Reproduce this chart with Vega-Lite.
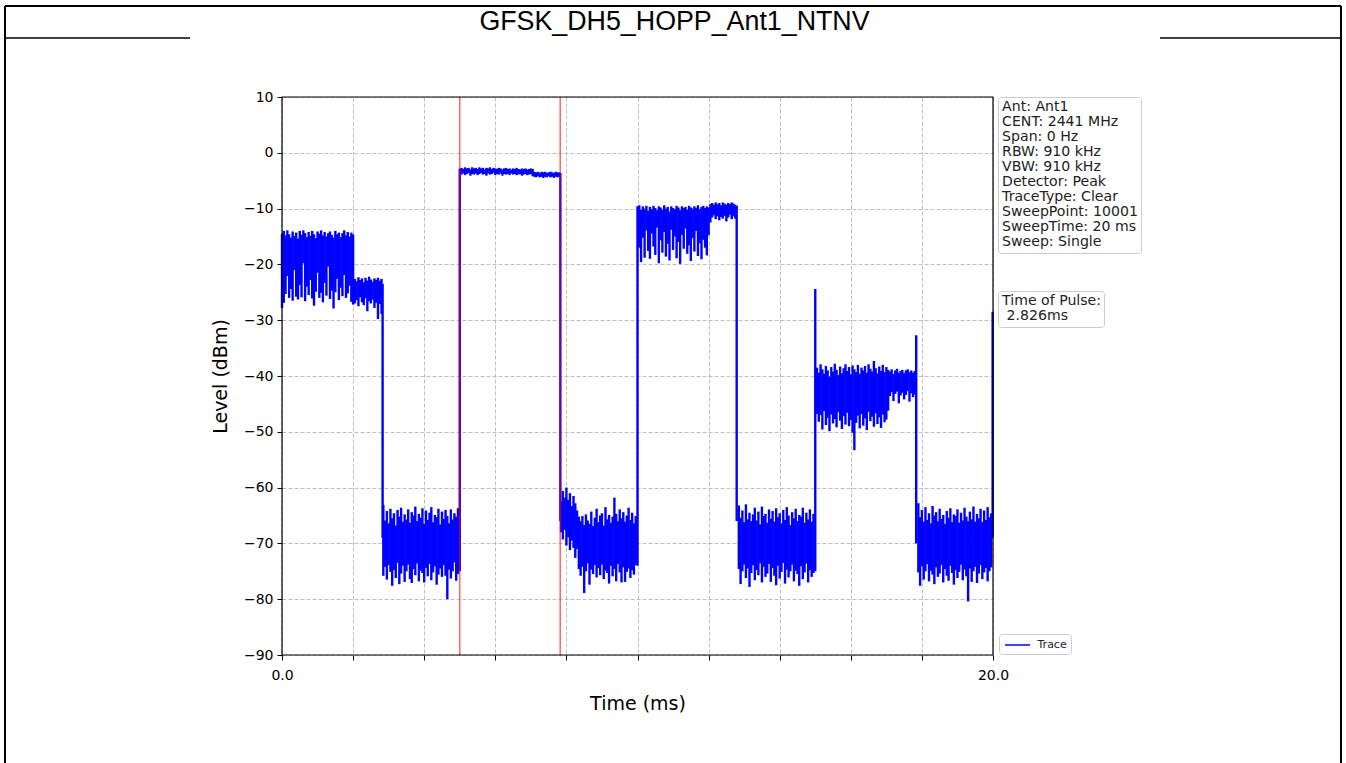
{
  "$schema": "https://vega.github.io/schema/vega-lite/v6.json",
  "width": 711,
  "height": 558,
  "autosize": "none",
  "padding": {"left": 282, "top": 97, "right": 353, "bottom": 108},
  "background": "white",
  "title": {
    "text": "GFSK_DH5_HOPP_Ant1_NTNV",
    "font": "Liberation Sans",
    "fontSize": 26.8,
    "fontWeight": "normal",
    "color": "black",
    "anchor": "middle",
    "frame": "group",
    "dx": 37,
    "offset": -52,
    "baseline": "alphabetic"
  },
  "config": {
    "view": {"stroke": null},
    "font": "DejaVu Sans",
    "axis": {
      "domain": false,
      "tickColor": "black",
      "tickSize": 5,
      "tickWidth": 1,
      "labelFont": "DejaVu Sans",
      "labelFontSize": 14,
      "labelColor": "black",
      "labelOverlap": false,
      "labelFlush": false,
      "titleFont": "DejaVu Sans",
      "titleFontSize": 19,
      "titleFontWeight": "normal",
      "titleColor": "black",
      "grid": true,
      "gridColor": "#b0b0b0",
      "gridDash": [4, 2],
      "gridWidth": 0.8
    }
  },
  "datasets": {
    "trace": [
      {"t":0.00,"lo":-27.8,"hi":-14.5},{"t":0.05,"lo":-26.9,"hi":-14.0},{"t":0.10,"lo":-25.3,"hi":-14.8},{"t":0.15,"lo":-22.1,"hi":-13.9},
      {"t":0.20,"lo":-26.0,"hi":-14.6},{"t":0.25,"lo":-24.4,"hi":-15.2},{"t":0.30,"lo":-26.5,"hi":-14.1},{"t":0.35,"lo":-21.0,"hi":-14.9},
      {"t":0.40,"lo":-25.8,"hi":-14.3},{"t":0.45,"lo":-26.3,"hi":-15.4},{"t":0.50,"lo":-23.7,"hi":-14.0},{"t":0.55,"lo":-25.9,"hi":-14.7},
      {"t":0.60,"lo":-19.8,"hi":-13.9},{"t":0.65,"lo":-26.6,"hi":-14.4},{"t":0.70,"lo":-24.0,"hi":-15.1},{"t":0.75,"lo":-25.5,"hi":-14.2},
      {"t":0.80,"lo":-22.8,"hi":-14.9},{"t":0.85,"lo":-26.1,"hi":-14.0},{"t":0.90,"lo":-27.4,"hi":-14.6},{"t":0.95,"lo":-24.9,"hi":-15.3},
      {"t":1.00,"lo":-21.5,"hi":-14.1},{"t":1.05,"lo":-26.0,"hi":-14.5},{"t":1.10,"lo":-25.1,"hi":-13.9},{"t":1.15,"lo":-26.8,"hi":-14.8},
      {"t":1.20,"lo":-23.3,"hi":-14.2},{"t":1.25,"lo":-25.6,"hi":-15.0},{"t":1.30,"lo":-20.4,"hi":-14.4},{"t":1.35,"lo":-26.2,"hi":-14.1},
      {"t":1.40,"lo":-24.7,"hi":-14.7},{"t":1.45,"lo":-27.9,"hi":-15.2},{"t":1.50,"lo":-25.0,"hi":-14.0},{"t":1.55,"lo":-22.6,"hi":-14.6},
      {"t":1.60,"lo":-26.4,"hi":-14.3},{"t":1.65,"lo":-24.2,"hi":-15.1},{"t":1.70,"lo":-25.7,"hi":-14.4},{"t":1.75,"lo":-21.9,"hi":-13.9},
      {"t":1.80,"lo":-26.0,"hi":-14.8},{"t":1.85,"lo":-25.2,"hi":-14.2},{"t":1.90,"lo":-23.8,"hi":-15.0},{"t":1.95,"lo":-26.7,"hi":-14.3},
      {"t":2.00,"lo":-27.2,"hi":-14.6},
      {"t":2.05,"lo":-27.0,"hi":-22.6},{"t":2.10,"lo":-26.4,"hi":-23.0},{"t":2.15,"lo":-27.5,"hi":-22.3},{"t":2.20,"lo":-25.9,"hi":-22.8},
      {"t":2.25,"lo":-26.8,"hi":-22.5},{"t":2.30,"lo":-27.3,"hi":-23.2},{"t":2.35,"lo":-26.1,"hi":-22.4},{"t":2.40,"lo":-28.4,"hi":-22.9},
      {"t":2.45,"lo":-26.6,"hi":-22.2},{"t":2.50,"lo":-27.0,"hi":-22.7},{"t":2.55,"lo":-26.3,"hi":-23.1},{"t":2.60,"lo":-27.8,"hi":-22.5},
      {"t":2.65,"lo":-26.9,"hi":-22.8},{"t":2.70,"lo":-29.8,"hi":-22.4},{"t":2.75,"lo":-27.1,"hi":-22.9},{"t":2.80,"lo":-28.9,"hi":-22.6},
      {"t":2.83,"lo":-69.0,"hi":-23.5},
      {"t":2.85,"lo":-75.8,"hi":-63.1},{"t":2.90,"lo":-74.2,"hi":-65.9},{"t":2.95,"lo":-76.5,"hi":-64.2},{"t":3.00,"lo":-73.9,"hi":-66.4},
      {"t":3.05,"lo":-75.1,"hi":-63.8},{"t":3.10,"lo":-77.6,"hi":-65.5},{"t":3.15,"lo":-74.8,"hi":-64.6},{"t":3.20,"lo":-76.2,"hi":-66.8},
      {"t":3.25,"lo":-73.5,"hi":-64.0},{"t":3.30,"lo":-77.3,"hi":-65.2},{"t":3.35,"lo":-75.4,"hi":-63.6},{"t":3.40,"lo":-74.0,"hi":-66.1},
      {"t":3.45,"lo":-76.9,"hi":-64.8},{"t":3.50,"lo":-75.0,"hi":-65.7},{"t":3.55,"lo":-73.8,"hi":-63.9},{"t":3.60,"lo":-76.4,"hi":-66.3},
      {"t":3.65,"lo":-77.1,"hi":-64.4},{"t":3.70,"lo":-74.6,"hi":-65.0},{"t":3.75,"lo":-75.7,"hi":-63.4},{"t":3.80,"lo":-73.6,"hi":-66.0},
      {"t":3.85,"lo":-76.8,"hi":-64.7},{"t":3.90,"lo":-74.9,"hi":-65.4},{"t":3.95,"lo":-75.3,"hi":-63.7},{"t":4.00,"lo":-77.0,"hi":-66.5},
      {"t":4.05,"lo":-74.4,"hi":-64.1},{"t":4.10,"lo":-75.9,"hi":-65.8},{"t":4.15,"lo":-73.7,"hi":-64.5},{"t":4.20,"lo":-76.6,"hi":-63.5},
      {"t":4.25,"lo":-75.2,"hi":-66.2},{"t":4.30,"lo":-74.1,"hi":-64.9},{"t":4.35,"lo":-77.4,"hi":-65.3},{"t":4.40,"lo":-75.6,"hi":-63.8},
      {"t":4.45,"lo":-74.5,"hi":-66.6},{"t":4.50,"lo":-76.0,"hi":-64.3},{"t":4.55,"lo":-73.9,"hi":-65.6},{"t":4.60,"lo":-75.8,"hi":-64.0},
      {"t":4.65,"lo":-80.0,"hi":-65.1},{"t":4.70,"lo":-74.7,"hi":-66.4},{"t":4.75,"lo":-76.3,"hi":-63.9},{"t":4.80,"lo":-75.0,"hi":-65.7},
      {"t":4.85,"lo":-73.4,"hi":-64.6},{"t":4.90,"lo":-76.7,"hi":-65.2},{"t":4.95,"lo":-75.5,"hi":-63.7},
      {"t":5.00,"lo":-75.0,"hi":-2.8},
      {"t":5.05,"lo":-3.9,"hi":-2.7},{"t":5.10,"lo":-3.7,"hi":-2.9},{"t":5.15,"lo":-4.0,"hi":-2.6},{"t":5.20,"lo":-3.8,"hi":-2.8},
      {"t":5.25,"lo":-3.6,"hi":-2.7},{"t":5.30,"lo":-4.1,"hi":-3.0},{"t":5.35,"lo":-3.8,"hi":-2.6},{"t":5.40,"lo":-3.9,"hi":-2.8},
      {"t":5.45,"lo":-3.7,"hi":-2.7},{"t":5.50,"lo":-4.0,"hi":-2.9},{"t":5.55,"lo":-3.8,"hi":-2.6},{"t":5.60,"lo":-3.6,"hi":-2.8},
      {"t":5.65,"lo":-3.9,"hi":-2.7},{"t":5.70,"lo":-3.8,"hi":-3.0},{"t":5.75,"lo":-4.1,"hi":-2.7},{"t":5.80,"lo":-3.7,"hi":-2.8},
      {"t":5.85,"lo":-3.9,"hi":-2.6},{"t":5.90,"lo":-3.8,"hi":-2.9},{"t":5.95,"lo":-3.6,"hi":-2.7},{"t":6.00,"lo":-4.0,"hi":-2.8},
      {"t":6.05,"lo":-3.8,"hi":-2.9},{"t":6.10,"lo":-3.9,"hi":-2.7},{"t":6.15,"lo":-3.7,"hi":-2.8},{"t":6.20,"lo":-4.1,"hi":-3.0},
      {"t":6.25,"lo":-3.8,"hi":-2.8},{"t":6.30,"lo":-3.9,"hi":-2.7},{"t":6.35,"lo":-3.8,"hi":-2.9},{"t":6.40,"lo":-4.0,"hi":-2.8},
      {"t":6.45,"lo":-3.7,"hi":-3.0},{"t":6.50,"lo":-3.9,"hi":-2.8},{"t":6.55,"lo":-3.8,"hi":-2.9},{"t":6.60,"lo":-4.0,"hi":-2.7},
      {"t":6.65,"lo":-3.9,"hi":-2.9},{"t":6.70,"lo":-3.8,"hi":-3.0},{"t":6.75,"lo":-4.1,"hi":-2.8},{"t":6.80,"lo":-3.9,"hi":-2.9},
      {"t":6.85,"lo":-3.8,"hi":-2.8},{"t":6.90,"lo":-4.0,"hi":-3.0},{"t":6.95,"lo":-3.9,"hi":-2.9},{"t":7.00,"lo":-3.8,"hi":-2.8},
      {"t":7.05,"lo":-4.2,"hi":-2.9},{"t":7.10,"lo":-4.3,"hi":-3.4},{"t":7.15,"lo":-4.4,"hi":-3.5},{"t":7.20,"lo":-4.2,"hi":-3.4},
      {"t":7.25,"lo":-4.4,"hi":-3.6},{"t":7.30,"lo":-4.3,"hi":-3.4},{"t":7.35,"lo":-4.5,"hi":-3.5},{"t":7.40,"lo":-4.3,"hi":-3.4},
      {"t":7.45,"lo":-4.4,"hi":-3.6},{"t":7.50,"lo":-4.2,"hi":-3.5},{"t":7.55,"lo":-4.4,"hi":-3.4},{"t":7.60,"lo":-4.3,"hi":-3.5},
      {"t":7.65,"lo":-4.5,"hi":-3.6},{"t":7.70,"lo":-4.3,"hi":-3.4},{"t":7.75,"lo":-4.4,"hi":-3.5},{"t":7.80,"lo":-4.3,"hi":-3.5},
      {"t":7.83,"lo":-66.0,"hi":-3.6},
      {"t":7.85,"lo":-68.0,"hi":-62.5},{"t":7.90,"lo":-69.3,"hi":-60.6},{"t":7.95,"lo":-67.6,"hi":-61.8},{"t":8.00,"lo":-70.4,"hi":-60.0},
      {"t":8.05,"lo":-68.9,"hi":-62.2},{"t":8.10,"lo":-71.2,"hi":-61.0},{"t":8.15,"lo":-69.5,"hi":-63.3},{"t":8.20,"lo":-70.8,"hi":-61.5},
      {"t":8.25,"lo":-72.6,"hi":-62.8},{"t":8.30,"lo":-71.0,"hi":-64.1},{"t":8.35,"lo":-74.6,"hi":-65.2},
      {"t":8.40,"lo":-75.8,"hi":-66.0},{"t":8.45,"lo":-74.2,"hi":-65.1},{"t":8.50,"lo":-78.9,"hi":-66.7},{"t":8.55,"lo":-75.0,"hi":-64.8},
      {"t":8.60,"lo":-73.6,"hi":-65.9},{"t":8.65,"lo":-77.4,"hi":-66.5},{"t":8.70,"lo":-74.7,"hi":-64.3},{"t":8.75,"lo":-75.5,"hi":-66.9},
      {"t":8.80,"lo":-73.9,"hi":-65.4},{"t":8.85,"lo":-76.1,"hi":-63.8},{"t":8.90,"lo":-74.4,"hi":-66.2},{"t":8.95,"lo":-75.7,"hi":-65.0},
      {"t":9.00,"lo":-73.8,"hi":-64.6},{"t":9.05,"lo":-76.4,"hi":-66.8},{"t":9.10,"lo":-74.9,"hi":-63.5},{"t":9.15,"lo":-75.3,"hi":-65.7},
      {"t":9.20,"lo":-77.2,"hi":-64.9},{"t":9.25,"lo":-74.0,"hi":-66.3},{"t":9.30,"lo":-75.9,"hi":-65.2},{"t":9.35,"lo":-74.6,"hi":-61.8},
      {"t":9.40,"lo":-76.8,"hi":-64.7},{"t":9.45,"lo":-73.7,"hi":-66.0},{"t":9.50,"lo":-75.2,"hi":-63.9},{"t":9.55,"lo":-77.0,"hi":-65.5},
      {"t":9.60,"lo":-74.3,"hi":-64.4},{"t":9.65,"lo":-76.9,"hi":-66.1},{"t":9.70,"lo":-75.1,"hi":-65.0},{"t":9.75,"lo":-74.5,"hi":-63.6},
      {"t":9.80,"lo":-76.2,"hi":-65.8},{"t":9.85,"lo":-74.8,"hi":-64.5},{"t":9.90,"lo":-75.6,"hi":-66.4},{"t":9.95,"lo":-73.9,"hi":-65.1},
      {"t":10.00,"lo":-74.0,"hi":-9.6},
      {"t":10.05,"lo":-17.0,"hi":-9.4},{"t":10.10,"lo":-19.6,"hi":-10.2},{"t":10.15,"lo":-15.2,"hi":-9.6},{"t":10.20,"lo":-18.8,"hi":-10.0},
      {"t":10.25,"lo":-13.9,"hi":-9.5},{"t":10.30,"lo":-17.6,"hi":-10.4},{"t":10.35,"lo":-19.0,"hi":-9.7},{"t":10.40,"lo":-14.5,"hi":-10.1},
      {"t":10.45,"lo":-16.8,"hi":-9.5},{"t":10.50,"lo":-18.3,"hi":-9.9},{"t":10.55,"lo":-13.4,"hi":-10.3},{"t":10.60,"lo":-19.8,"hi":-9.6},
      {"t":10.65,"lo":-15.7,"hi":-9.8},{"t":10.70,"lo":-17.9,"hi":-10.2},{"t":10.75,"lo":-14.2,"hi":-9.4},{"t":10.80,"lo":-18.6,"hi":-10.0},
      {"t":10.85,"lo":-16.3,"hi":-9.7},{"t":10.90,"lo":-19.3,"hi":-10.5},{"t":10.95,"lo":-13.8,"hi":-9.6},{"t":11.00,"lo":-17.4,"hi":-9.9},
      {"t":11.05,"lo":-15.0,"hi":-10.1},{"t":11.10,"lo":-18.9,"hi":-9.5},{"t":11.15,"lo":-16.0,"hi":-9.8},{"t":11.20,"lo":-19.9,"hi":-10.3},
      {"t":11.25,"lo":-14.7,"hi":-9.6},{"t":11.30,"lo":-17.2,"hi":-9.9},{"t":11.35,"lo":-13.6,"hi":-9.7},{"t":11.40,"lo":-18.1,"hi":-10.2},
      {"t":11.45,"lo":-16.6,"hi":-9.5},{"t":11.50,"lo":-19.4,"hi":-9.8},{"t":11.55,"lo":-15.3,"hi":-10.0},{"t":11.60,"lo":-17.7,"hi":-9.6},
      {"t":11.65,"lo":-14.0,"hi":-9.9},{"t":11.70,"lo":-18.5,"hi":-9.4},{"t":11.75,"lo":-16.2,"hi":-10.1},{"t":11.80,"lo":-19.1,"hi":-9.7},
      {"t":11.85,"lo":-15.6,"hi":-9.5},{"t":11.90,"lo":-17.0,"hi":-9.9},{"t":11.95,"lo":-18.4,"hi":-9.6},{"t":12.00,"lo":-14.8,"hi":-9.8},
      {"t":12.05,"lo":-12.5,"hi":-9.2},
      {"t":12.10,"lo":-11.6,"hi":-9.0},{"t":12.15,"lo":-11.2,"hi":-9.3},{"t":12.20,"lo":-11.9,"hi":-8.9},{"t":12.25,"lo":-11.4,"hi":-9.2},
      {"t":12.30,"lo":-12.1,"hi":-9.0},{"t":12.35,"lo":-11.5,"hi":-9.4},{"t":12.40,"lo":-11.8,"hi":-8.9},{"t":12.45,"lo":-11.3,"hi":-9.1},
      {"t":12.50,"lo":-12.3,"hi":-9.3},{"t":12.55,"lo":-11.6,"hi":-9.0},{"t":12.60,"lo":-11.1,"hi":-9.2},{"t":12.65,"lo":-11.9,"hi":-8.9},
      {"t":12.70,"lo":-11.4,"hi":-9.1},{"t":12.75,"lo":-11.8,"hi":-9.3},
      {"t":12.79,"lo":-66.0,"hi":-9.5},
      {"t":12.85,"lo":-74.6,"hi":-63.2},{"t":12.90,"lo":-77.3,"hi":-65.4},{"t":12.95,"lo":-75.0,"hi":-64.1},{"t":13.00,"lo":-73.8,"hi":-66.2},
      {"t":13.05,"lo":-76.2,"hi":-63.0},{"t":13.10,"lo":-74.5,"hi":-65.7},{"t":13.15,"lo":-77.8,"hi":-64.5},{"t":13.20,"lo":-75.3,"hi":-66.0},
      {"t":13.25,"lo":-73.9,"hi":-64.8},{"t":13.30,"lo":-76.6,"hi":-63.6},{"t":13.35,"lo":-74.8,"hi":-65.9},{"t":13.40,"lo":-75.7,"hi":-64.3},
      {"t":13.45,"lo":-73.6,"hi":-66.6},{"t":13.50,"lo":-77.0,"hi":-63.4},{"t":13.55,"lo":-74.2,"hi":-65.1},{"t":13.60,"lo":-76.0,"hi":-64.7},
      {"t":13.65,"lo":-75.4,"hi":-66.3},{"t":13.70,"lo":-73.7,"hi":-63.9},{"t":13.75,"lo":-76.9,"hi":-65.6},{"t":13.80,"lo":-74.4,"hi":-64.2},
      {"t":13.85,"lo":-75.8,"hi":-66.1},{"t":13.90,"lo":-77.5,"hi":-63.7},{"t":13.95,"lo":-74.0,"hi":-65.3},{"t":14.00,"lo":-76.3,"hi":-64.6},
      {"t":14.05,"lo":-75.1,"hi":-66.4},{"t":14.10,"lo":-73.5,"hi":-64.0},{"t":14.15,"lo":-77.2,"hi":-65.8},{"t":14.20,"lo":-74.7,"hi":-63.5},
      {"t":14.25,"lo":-76.1,"hi":-65.0},{"t":14.30,"lo":-75.0,"hi":-66.7},{"t":14.35,"lo":-73.8,"hi":-64.4},{"t":14.40,"lo":-76.8,"hi":-65.5},
      {"t":14.45,"lo":-74.9,"hi":-63.8},{"t":14.50,"lo":-75.5,"hi":-66.0},{"t":14.55,"lo":-77.6,"hi":-64.9},{"t":14.60,"lo":-74.1,"hi":-65.2},
      {"t":14.65,"lo":-76.4,"hi":-63.6},{"t":14.70,"lo":-75.2,"hi":-66.3},{"t":14.75,"lo":-73.6,"hi":-64.5},{"t":14.80,"lo":-77.0,"hi":-65.7},
      {"t":14.85,"lo":-74.8,"hi":-63.9},{"t":14.90,"lo":-76.0,"hi":-66.1},{"t":14.95,"lo":-75.3,"hi":-64.7},
      {"t":15.00,"lo":-75.0,"hi":-24.4},
      {"t":15.05,"lo":-46.8,"hi":-38.5},{"t":15.10,"lo":-48.2,"hi":-39.4},{"t":15.15,"lo":-47.0,"hi":-37.9},{"t":15.20,"lo":-49.6,"hi":-38.8},
      {"t":15.25,"lo":-46.3,"hi":-39.6},{"t":15.30,"lo":-48.8,"hi":-38.2},{"t":15.35,"lo":-47.5,"hi":-39.0},{"t":15.40,"lo":-49.9,"hi":-40.1},
      {"t":15.45,"lo":-46.9,"hi":-38.4},{"t":15.50,"lo":-48.5,"hi":-39.2},{"t":15.55,"lo":-47.7,"hi":-37.8},{"t":15.60,"lo":-49.2,"hi":-38.9},
      {"t":15.65,"lo":-46.5,"hi":-39.8},{"t":15.70,"lo":-48.0,"hi":-38.3},{"t":15.75,"lo":-49.5,"hi":-39.5},{"t":15.80,"lo":-47.2,"hi":-38.6},
      {"t":15.85,"lo":-48.7,"hi":-37.9},{"t":15.90,"lo":-46.6,"hi":-39.1},{"t":15.95,"lo":-49.0,"hi":-38.4},{"t":16.00,"lo":-47.9,"hi":-39.7},
      {"t":16.05,"lo":-50.2,"hi":-38.1},{"t":16.10,"lo":-53.3,"hi":-38.8},{"t":16.15,"lo":-48.4,"hi":-39.3},{"t":16.20,"lo":-47.1,"hi":-38.0},
      {"t":16.25,"lo":-49.4,"hi":-39.6},{"t":16.30,"lo":-46.8,"hi":-38.5},{"t":16.35,"lo":-48.9,"hi":-39.0},{"t":16.40,"lo":-47.6,"hi":-38.2},
      {"t":16.45,"lo":-49.7,"hi":-39.4},{"t":16.50,"lo":-46.4,"hi":-37.9},{"t":16.55,"lo":-48.1,"hi":-38.7},{"t":16.60,"lo":-47.3,"hi":-39.2},
      {"t":16.65,"lo":-49.1,"hi":-37.3},{"t":16.70,"lo":-46.7,"hi":-38.6},{"t":16.75,"lo":-48.6,"hi":-39.5},{"t":16.80,"lo":-47.4,"hi":-38.3},
      {"t":16.85,"lo":-49.3,"hi":-39.1},{"t":16.90,"lo":-46.9,"hi":-38.0},{"t":16.95,"lo":-48.3,"hi":-39.3},{"t":17.00,"lo":-47.8,"hi":-38.4},
      {"t":17.05,"lo":-46.2,"hi":-38.9},
      {"t":17.10,"lo":-43.6,"hi":-39.2},{"t":17.15,"lo":-42.9,"hi":-38.8},{"t":17.20,"lo":-44.5,"hi":-39.6},{"t":17.25,"lo":-43.2,"hi":-39.0},
      {"t":17.30,"lo":-42.8,"hi":-38.7},{"t":17.35,"lo":-44.9,"hi":-39.4},{"t":17.40,"lo":-43.5,"hi":-39.1},{"t":17.45,"lo":-43.0,"hi":-38.9},
      {"t":17.50,"lo":-44.2,"hi":-39.5},{"t":17.55,"lo":-43.4,"hi":-39.0},{"t":17.60,"lo":-42.7,"hi":-38.8},{"t":17.65,"lo":-44.6,"hi":-39.3},
      {"t":17.70,"lo":-43.1,"hi":-39.0},{"t":17.75,"lo":-43.8,"hi":-39.4},{"t":17.80,"lo":-43.3,"hi":-39.1},
      {"t":17.84,"lo":-70.0,"hi":-32.7},
      {"t":17.90,"lo":-75.2,"hi":-62.8},{"t":17.95,"lo":-77.6,"hi":-65.3},{"t":18.00,"lo":-74.1,"hi":-64.0},{"t":18.05,"lo":-76.5,"hi":-66.1},
      {"t":18.10,"lo":-75.0,"hi":-63.5},{"t":18.15,"lo":-73.7,"hi":-65.8},{"t":18.20,"lo":-76.8,"hi":-64.6},{"t":18.25,"lo":-74.9,"hi":-66.4},
      {"t":18.30,"lo":-75.6,"hi":-63.3},{"t":18.35,"lo":-77.3,"hi":-65.0},{"t":18.40,"lo":-74.3,"hi":-64.4},{"t":18.45,"lo":-76.0,"hi":-66.0},
      {"t":18.50,"lo":-75.4,"hi":-63.8},{"t":18.55,"lo":-73.9,"hi":-65.6},{"t":18.60,"lo":-77.0,"hi":-64.9},{"t":18.65,"lo":-74.6,"hi":-66.5},
      {"t":18.70,"lo":-75.8,"hi":-64.2},{"t":18.75,"lo":-76.7,"hi":-65.4},{"t":18.80,"lo":-74.0,"hi":-63.7},{"t":18.85,"lo":-75.3,"hi":-66.2},
      {"t":18.90,"lo":-77.4,"hi":-64.8},{"t":18.95,"lo":-74.8,"hi":-65.1},{"t":19.00,"lo":-76.2,"hi":-63.9},{"t":19.05,"lo":-75.1,"hi":-66.3},
      {"t":19.10,"lo":-73.8,"hi":-64.5},{"t":19.15,"lo":-76.6,"hi":-65.9},{"t":19.20,"lo":-74.7,"hi":-63.6},{"t":19.25,"lo":-75.9,"hi":-65.2},
      {"t":19.30,"lo":-80.4,"hi":-66.0},{"t":19.35,"lo":-74.5,"hi":-64.3},{"t":19.40,"lo":-76.9,"hi":-65.7},{"t":19.45,"lo":-75.0,"hi":-63.4},
      {"t":19.50,"lo":-74.2,"hi":-66.1},{"t":19.55,"lo":-77.1,"hi":-64.7},{"t":19.60,"lo":-75.4,"hi":-65.5},{"t":19.65,"lo":-73.9,"hi":-63.8},
      {"t":19.70,"lo":-76.4,"hi":-66.2},{"t":19.75,"lo":-75.2,"hi":-64.1},{"t":19.80,"lo":-74.4,"hi":-65.8},{"t":19.85,"lo":-76.8,"hi":-63.5},
      {"t":19.90,"lo":-75.0,"hi":-65.3},{"t":19.95,"lo":-74.3,"hi":-64.6},
      {"t":19.99,"lo":-69.0,"hi":-28.5}
    ],
    "markers": [{"t": 5.0}, {"t": 7.826}],
    "info": [
      {"line": "Ant: Ant1"},
      {"line": "CENT: 2441 MHz"},
      {"line": "Span: 0 Hz"},
      {"line": "RBW: 910 kHz"},
      {"line": "VBW: 910 kHz"},
      {"line": "Detector: Peak"},
      {"line": "TraceType: Clear"},
      {"line": "SweepPoint: 10001"},
      {"line": "SweepTime: 20 ms"},
      {"line": "Sweep: Single"}
    ],
    "pulse": [
      {"line": "Time of Pulse:"},
      {"line": "\u200b 2.826ms"}
    ],
    "one": [{}]
  },
  "layer": [
    {
      "data": {"name": "trace"},
      "mark": {"type": "rule", "strokeWidth": 2.4},
      "encoding": {
        "x": {"field": "t", "type": "quantitative", "scale": {"domain": [0, 20], "nice": false, "zero": false},
          "axis": {"values": [0, 2, 4, 6, 8, 10, 12, 14, 16, 18, 20],
            "labelExpr": "datum.value == 0 ? '0.0' : (datum.value == 20 ? '20.0' : '')",
            "title": "Time (ms)", "labelPadding": 8, "titlePadding": 12}},
        "y": {"field": "lo", "type": "quantitative", "scale": {"domain": [-90, 10], "nice": false, "zero": false},
          "axis": {"values": [-90, -80, -70, -60, -50, -40, -30, -20, -10, 0, 10],
            "title": "Level (dBm)", "labelPadding": 4, "titlePadding": 13}},
        "y2": {"field": "hi"},
        "color": {"datum": "Trace", "type": "nominal",
          "scale": {"domain": ["Trace"], "range": ["#0000ff"]},
          "legend": {"orient": "none", "legendX": 717, "legendY": 537, "title": null,
            "symbolType": "M-0.83,0H3.33", "symbolSize": 144, "symbolStrokeWidth": 1.5,
            "labelFont": "DejaVu Sans", "labelFontSize": 11, "labelColor": "#222", "labelOffset": 20.5,
            "padding": 4, "strokeColor": "#cccccc", "fillColor": "white", "cornerRadius": 3}}
      }
    },
    {
      "data": {"name": "markers"},
      "mark": {"type": "rule", "color": "#ff0000", "strokeOpacity": 0.6, "strokeWidth": 1.5},
      "encoding": {
        "x": {"field": "t", "type": "quantitative", "scale": {"domain": [0, 20], "nice": false, "zero": false}}
      }
    },
    {
      "data": {"name": "info"},
      "mark": {"type": "point", "opacity": 0, "size": 0},
      "encoding": {
        "shape": {"field": "line", "type": "nominal", "sort": null,
          "scale": {"range": ["circle"]},
          "legend": {"orient": "none", "legendX": 716, "legendY": 0, "title": null,
            "symbolSize": 0, "symbolStrokeWidth": 0, "symbolOpacity": 0,
            "labelFont": "DejaVu Sans", "labelFontSize": 14.1, "labelColor": "#222", "labelOffset": -13, "labelLimit": 300,
            "rowPadding": -0.9, "padding": 3, "strokeColor": "#cccccc", "fillColor": "white", "cornerRadius": 3}}
      }
    },
    {
      "data": {"name": "pulse"},
      "mark": {"type": "point", "opacity": 0, "size": 0},
      "encoding": {
        "shape": {"field": "line", "type": "nominal", "sort": null,
          "scale": {"range": ["square"]},
          "legend": {"orient": "none", "legendX": 716, "legendY": 194, "title": null,
            "symbolSize": 0, "symbolStrokeWidth": 0, "symbolOpacity": 0,
            "labelFont": "DejaVu Sans", "labelFontSize": 14.1, "labelColor": "#222", "labelOffset": -13, "labelLimit": 300,
            "rowPadding": -0.9, "padding": 3, "strokeColor": "#cccccc", "fillColor": "white", "cornerRadius": 3}}
      }
    },
    {
      "data": {"name": "one"},
      "mark": {"type": "rect", "fill": null, "stroke": "black", "strokeWidth": 1.2},
      "encoding": {
        "x": {"datum": 0, "scale": {"domain": [0, 20], "nice": false, "zero": false}},
        "x2": {"datum": 20},
        "y": {"datum": -90, "scale": {"domain": [-90, 10], "nice": false, "zero": false}},
        "y2": {"datum": 10}
      }
    },
    {
      "data": {"name": "one"},
      "mark": {"type": "rule", "color": "black", "strokeWidth": 2},
      "encoding": {
        "x": {"datum": -7.792, "scale": {"domain": [0, 20], "nice": false, "zero": false}},
        "y": {"datum": 26.308, "scale": {"domain": [-90, 10], "nice": false, "zero": false}},
        "y2": {"datum": -120}
      }
    },
    {
      "data": {"name": "one"},
      "mark": {"type": "rule", "color": "black", "strokeWidth": 2},
      "encoding": {
        "x": {"datum": 29.789, "scale": {"domain": [0, 20], "nice": false, "zero": false}},
        "y": {"datum": 26.308, "scale": {"domain": [-90, 10], "nice": false, "zero": false}},
        "y2": {"datum": -120}
      }
    },
    {
      "data": {"name": "one"},
      "mark": {"type": "rule", "color": "black", "strokeWidth": 2},
      "encoding": {
        "x": {"datum": -7.792, "scale": {"domain": [0, 20], "nice": false, "zero": false}},
        "x2": {"datum": 29.789},
        "y": {"datum": 26.308, "scale": {"domain": [-90, 10], "nice": false, "zero": false}}
      }
    },
    {
      "data": {"name": "one"},
      "mark": {"type": "rule", "color": "black", "strokeWidth": 1.5},
      "encoding": {
        "x": {"datum": -7.792, "scale": {"domain": [0, 20], "nice": false, "zero": false}},
        "x2": {"datum": -2.588},
        "y": {"datum": 20.573, "scale": {"domain": [-90, 10], "nice": false, "zero": false}}
      }
    },
    {
      "data": {"name": "one"},
      "mark": {"type": "rule", "color": "black", "strokeWidth": 1.5},
      "encoding": {
        "x": {"datum": 24.698, "scale": {"domain": [0, 20], "nice": false, "zero": false}},
        "x2": {"datum": 29.789},
        "y": {"datum": 20.573, "scale": {"domain": [-90, 10], "nice": false, "zero": false}}
      }
    }
  ],
  "resolve": {"scale": {"shape": "independent"}}
}
